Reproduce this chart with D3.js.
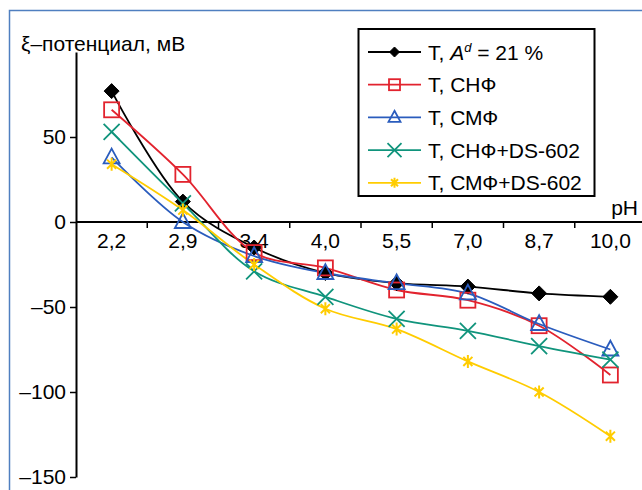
<!DOCTYPE html>
<html>
<head>
<meta charset="utf-8">
<script src="https://cdn.jsdelivr.net/npm/d3@7"></script>
<style>
  body { margin: 0; background: #fff; }
  svg { display: block; font-family: "Liberation Sans", Arial, sans-serif; }
</style>
</head>
<body>
<svg id="chart"></svg>
<script>
// pH categories along the x axis
var categories = ["2,2", "2,9", "3,4", "4,0", "5,5", "7,0", "8,7", "10,0"];

// zeta potential, mV, one list per sample
var tAd21 = [77, 12, -15, -30, -36, -38, -42, -44];
var tSNF = [66, 28, -18, -27, -40, -46, -61, -90];
var tSMF = [38, 0, -20, -30, -36, -42, -60, -75];
var tSNFds = [53, 11, -29, -44, -57, -64, -73, -81];
var tSMFds = [34, 7, -25, -51, -63, -82, -100, -126];

var yTicks = [-150, -100, -50, 0, 50];

var series = [
  { name: "Ad", values: tAd21, color: "#000000", marker: "diamond" },
  { name: "Т, СНФ", values: tSNF, color: "#e2232e", marker: "square" },
  { name: "Т, СМФ", values: tSMF, color: "#2a5cbd", marker: "triangle" },
  { name: "Т, СНФ+DS-602", values: tSNFds, color: "#10947c", marker: "cross" },
  { name: "Т, СМФ+DS-602", values: tSMFds, color: "#ffcc00", marker: "star" }
];

var width = 642, height = 490;
var fs = 21;
var chart = d3.select('#chart').attr('width', width).attr('height', height);

// outer blue frame, runs off the right and bottom
chart.append('rect')
  .attr('x', 9.5).attr('y', 10.5)
  .attr('width', 700).attr('height', 600)
  .attr('fill', 'none').attr('stroke', '#4f7fc0').attr('stroke-width', 1.5);

var xScale = d3.scaleBand().domain(categories).range([76, 646]);
var yScale = d3.scaleLinear().domain([-150, 100]).range([477, 52]);

// markers
function drawMarker(g, type, x, y, color, s) {
  if (type === "diamond") {
    g.append('path')
      .attr('d', 'M' + x + ',' + (y - s) + 'L' + (x + s) + ',' + y + 'L' + x + ',' + (y + s) + 'L' + (x - s) + ',' + y + 'Z')
      .attr('fill', color).attr('stroke', color);
  } else if (type === "square") {
    g.append('rect')
      .attr('x', x - s).attr('y', y - s).attr('width', 2 * s).attr('height', 2 * s)
      .attr('fill', 'none').attr('stroke', color).attr('stroke-width', 1.8);
  } else if (type === "triangle") {
    g.append('path')
      .attr('d', 'M' + x + ',' + (y - s * 1.1) + 'L' + (x + s) + ',' + (y + s * 0.75) + 'L' + (x - s) + ',' + (y + s * 0.75) + 'Z')
      .attr('fill', 'none').attr('stroke', color).attr('stroke-width', 1.8);
  } else if (type === "cross") {
    g.append('path')
      .attr('d', 'M' + (x - s) + ',' + (y - s) + 'L' + (x + s) + ',' + (y + s) + 'M' + (x + s) + ',' + (y - s) + 'L' + (x - s) + ',' + (y + s))
      .attr('stroke', color).attr('stroke-width', 1.8);
  } else if (type === "star") {
    var k = s * 0.7;
    g.append('path')
      .attr('d', 'M' + (x - k) + ',' + (y - k) + 'L' + (x + k) + ',' + (y + k) +
        'M' + (x + k) + ',' + (y - k) + 'L' + (x - k) + ',' + (y + k) +
        'M' + x + ',' + (y - s) + 'L' + x + ',' + (y + s))
      .attr('stroke', color).attr('stroke-width', 2);
  }
}

var markerSize = { diamond: 7.5, square: 7.5, triangle: 8, cross: 8, star: 6.5 };

// y axis
var yAxis = chart.append('g')
  .attr('transform', 'translate(76,0)')
  .call(d3.axisLeft(yScale).tickValues(yTicks).tickSize(6).tickSizeOuter(0)
    .tickFormat(function(d) { return d < 0 ? '\u2013' + Math.abs(d) : d; }));
yAxis.select('.domain').attr('stroke-width', 2);
yAxis.selectAll('line').attr('stroke-width', 1.5);
yAxis.selectAll('text').attr('font-size', fs).attr('font-family', 'Liberation Sans, Arial, sans-serif').attr('dx', -1);

// x axis at zero, ticks on band boundaries
var xAxis = chart.append('g')
  .attr('transform', 'translate(0,' + yScale(0) + ')');
xAxis.append('line')
  .attr('x1', 76).attr('x2', 646)
  .attr('stroke', '#000').attr('stroke-width', 2);
xAxis.selectAll('.xtick')
  .data(categories)
  .enter().append('line')
  .attr('x1', function(d) { return xScale(d) + xScale.bandwidth(); })
  .attr('x2', function(d) { return xScale(d) + xScale.bandwidth(); })
  .attr('y1', 0).attr('y2', 6)
  .attr('stroke', '#000').attr('stroke-width', 1.5);
xAxis.selectAll('.xlabel')
  .data(categories)
  .enter().append('text')
  .attr('x', function(d) { return xScale(d) + xScale.bandwidth() / 2; })
  .attr('y', 26)
  .attr('text-anchor', 'middle')
  .attr('font-size', fs)
  .text(function(d) { return d; });

// lines
var line = d3.line()
  .x(function(d, i) { return xScale(categories[i]) + xScale.bandwidth() / 2; })
  .y(function(d) { return yScale(d); })
  .curve(d3.curveCatmullRom.alpha(0.5));

series.forEach(function(s) {
  chart.append('path')
    .attr('d', line(s.values))
    .attr('fill', 'none')
    .attr('stroke', s.color)
    .attr('stroke-width', 1.8);
});
series.forEach(function(s) {
  var g = chart.append('g');
  s.values.forEach(function(v, i) {
    drawMarker(g, s.marker, xScale(categories[i]) + xScale.bandwidth() / 2, yScale(v), s.color, markerSize[s.marker]);
  });
});

// axis titles
chart.append('text').attr('x', 21).attr('y', 51).attr('font-size', fs).text('\u03BE\u2013потенциал, мВ');
chart.append('text').attr('x', 638).attr('y', 215).attr('font-size', fs).attr('text-anchor', 'end').text('pH');

// legend
var legend = chart.append('g');
legend.append('rect')
  .attr('x', 358.5).attr('y', 29).attr('width', 236).attr('height', 167)
  .attr('fill', '#fff').attr('stroke', '#000').attr('stroke-width', 2);
var legendMarker = { diamond: 5, square: 5.5, triangle: 6, cross: 7, star: 5 };
series.forEach(function(s, i) {
  var y = 52 + i * 32.7;
  legend.append('line')
    .attr('x1', 368).attr('x2', 421).attr('y1', y).attr('y2', y)
    .attr('stroke', s.color).attr('stroke-width', 1.8);
  drawMarker(legend, s.marker, 394.5, y, s.color, legendMarker[s.marker]);
  var t = legend.append('text').attr('x', 428).attr('y', y + 7.5).attr('font-size', fs);
  if (s.name === "Ad") {
    t.append('tspan').text('Т, ');
    t.append('tspan').attr('font-style', 'italic').text('A');
    t.append('tspan').attr('font-size', 13).attr('font-style', 'italic').attr('dy', -8).text('d');
    t.append('tspan').attr('dy', 8).text(' = 21 %');
  } else {
    t.text(s.name);
  }
});
</script>
</body>
</html>
